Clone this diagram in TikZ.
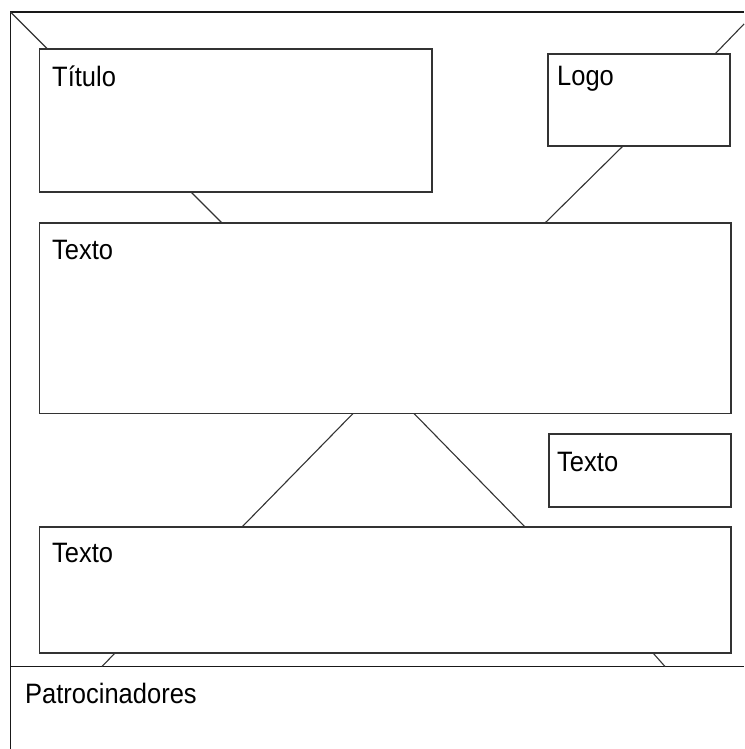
\documentclass[tikz,border=0pt]{standalone}
\usepackage{fontspec}
\usepackage{graphicx}
\setmainfont{Liberation Sans}
\newcommand{\tallt}[1]{\scalebox{1}[1.1]{#1}}
\begin{document}
\begin{tikzpicture}[x=1pt,y=-1pt,
  box/.style={draw=black!80,line width=1.1pt,anchor=north west,inner sep=0pt,outer sep=0pt},
  lbl/.style={anchor=base west,inner sep=0pt,font=\fontsize{25.5}{28}\selectfont},
  link/.style={draw=black!80,line width=1.1pt},
  frame/.style={draw=black!90,line width=1.4pt}]
\useasboundingbox (0,0) rectangle (744,749);
% frame
\coordinate (fbl) at (10.5,749);
\coordinate (ftl) at (10.5,12);
\coordinate (ftr) at (744,12);
\coordinate (pl) at (10.5,666.5);
\coordinate (pr) at (744,666.5);
\coordinate (trc) at (744,24);
\draw[frame] (fbl) -- (ftl) -- (ftr);
\draw[frame] (pl) -- (pr);
% boxes
\node[box,minimum width=392.5pt,minimum height=143pt] (titulo) at (39.5,49) {};
\node[box,minimum width=182pt,minimum height=92pt] (logo) at (548,54) {};
\node[box,minimum width=691.5pt,minimum height=190.5pt] (texto1) at (39.5,223) {};
\node[box,minimum width=182pt,minimum height=73pt] (texto2) at (549,434) {};
\node[box,minimum width=691.5pt,minimum height=126pt] (texto3) at (39.5,527) {};
% labels
\node[lbl] (tituloL) at (52,87) {\tallt{Título}};
\node[lbl] (logoL) at (557,86) {\tallt{Logo}};
\node[lbl] (texto1L) at (52,259) {\tallt{Texto}};
\node[lbl] (texto2L) at (557,471) {\tallt{Texto}};
\node[lbl] (texto3L) at (52,562) {\tallt{Texto}};
\node[lbl] (patro) at (25,703) {\tallt{Patrocinadores}};
% connectors
\draw[link] (ftl) -- ([xshift=8pt]titulo.north west);
\draw[link] (trc) -- ([xshift=-15pt]logo.north east);
\draw[link] ([xshift=151.5pt]titulo.south west) -- ([xshift=182.5pt]texto1.north west);
\draw[link] ([xshift=75pt]logo.south west) -- ([xshift=-186pt]texto1.north east);
\draw[link] ([xshift=313.5pt]texto1.south west) -- ([xshift=202.5pt]texto3.north west);
\draw[link] ([xshift=374.5pt]texto1.south west) -- ([xshift=485.5pt]texto3.north west);
\draw[link] ([xshift=75.5pt]texto3.south west) -- ([xshift=62.5pt]texto3.south west |- pl);
\draw[link] ([xshift=-78pt]texto3.south east) -- ([xshift=-66pt]texto3.south east |- pl);
\end{tikzpicture}
\end{document}
